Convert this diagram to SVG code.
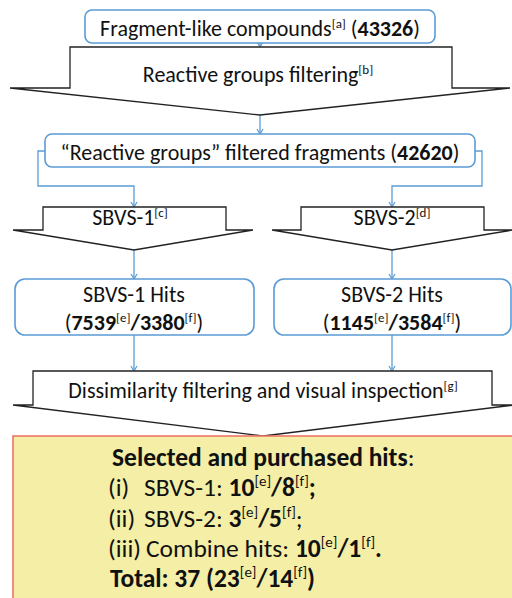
<svg xmlns="http://www.w3.org/2000/svg" width="512" height="598" viewBox="0 0 512 598">
<defs>
<marker id="ah" markerWidth="8" markerHeight="8" refX="6" refY="4" orient="auto" markerUnits="userSpaceOnUse">
<path d="M1,1 L6,4 L1,7" fill="none" stroke="#5B9BD5" stroke-width="1.2"/>
</marker>
<style>
.box{fill:#fff;stroke:#5B9BD5;stroke-width:1.6}
.arr{fill:#fff;stroke:#222;stroke-width:1.3;stroke-linejoin:miter}
.con{fill:none;stroke:#5B9BD5;stroke-width:1.3}
text{font-family:Carlito,Lato,"Open Sans",sans-serif;fill:#111;font-size:22px}
.b{font-weight:bold}
.big{font-size:25.5px}
.s{font-size:13px}
.bs{font-size:15px}
</style>
</defs>
<rect x="0" y="0" width="512" height="598" fill="#fff"/>
<g id="connectors">
<path class="con" d="M260,43 V47" marker-end="url(#ah)"/>
<path class="con" d="M260,115 V134" marker-end="url(#ah)"/>
<path class="con" d="M45,151 H38 V186 H134 V207" marker-end="url(#ah)"/>
<path class="con" d="M475,151 H482 V186 H392 V207" marker-end="url(#ah)"/>
<path class="con" d="M134,250 V279" marker-end="url(#ah)"/>
<path class="con" d="M392,250 V279" marker-end="url(#ah)"/>
<path class="con" d="M134,335 V371" marker-end="url(#ah)"/>
<path class="con" d="M392,335 V371" marker-end="url(#ah)"/>
</g>
<g id="fragments">
<rect class="box" x="85" y="10" width="350" height="33" rx="7"/>
<text x="260" y="36" text-anchor="middle" font-size="21.5">Fragment-like compounds<tspan class="s" dy="-8">[a]</tspan><tspan dy="8">  (</tspan><tspan class="b">43326</tspan>)</text>
</g>
<g id="reactive-filter">
<path class="arr" d="M70,47 H452 V88 H510 L260,115 L10,88 H70 Z"/>
<text x="258" y="82" text-anchor="middle">Reactive groups filtering<tspan class="s" dy="-8">[b]</tspan></text>
</g>
<g id="filtered">
<rect class="box" x="45" y="134" width="430" height="33" rx="7"/>
<text x="260" y="160" text-anchor="middle">“Reactive groups” filtered fragments (<tspan class="b">42620</tspan>)</text>
</g>
<g id="sbvs1">
<path class="arr" d="M43,207 H226 V230 H253 L134,250 L13,230 H43 Z"/>
<text x="130" y="225" text-anchor="middle">SBVS-1<tspan class="s" dy="-8">[c]</tspan></text>
</g>
<g id="sbvs2">
<path class="arr" d="M301,207 H484 V230 H513 L392,250 L272,230 H301 Z"/>
<text x="392" y="225" text-anchor="middle">SBVS-2<tspan class="s" dy="-8">[d]</tspan></text>
</g>
<g id="sbvs1-hits">
<rect class="box" x="15" y="279" width="239" height="56" rx="10"/>
<text x="134" y="302" text-anchor="middle">SBVS-1 Hits</text>
<text x="134" y="330" text-anchor="middle">(<tspan class="b">7539</tspan><tspan class="s" dy="-8">[e]</tspan><tspan class="b" dy="8">/3380</tspan><tspan class="s" dy="-8">[f]</tspan><tspan dy="8">)</tspan></text>
</g>
<g id="sbvs2-hits">
<rect class="box" x="274" y="279" width="237" height="56" rx="10"/>
<text x="392" y="302" text-anchor="middle">SBVS-2 Hits</text>
<text x="392" y="330" text-anchor="middle">(<tspan class="b">1145</tspan><tspan class="s" dy="-8">[e]</tspan><tspan class="b" dy="8">/3584</tspan><tspan class="s" dy="-8">[f]</tspan><tspan dy="8">)</tspan></text>
</g>
<g id="dissimilarity">
<path class="arr" d="M33,371 H492 V405 H514 L263,436 L13,405 H33 Z"/>
<text x="263" y="398" text-anchor="middle">Dissimilarity filtering and visual inspection<tspan class="s" dy="-8">[g]</tspan></text>
</g>
<g id="selected">
<rect x="13" y="436" width="510" height="180" fill="#F4EEA6" stroke="#F07468" stroke-width="1.6"/>
<text class="big" x="112" y="466"><tspan class="b">Selected and purchased hits</tspan>:</text>
<text class="big" x="108" y="496">(i)<tspan x="144">SBVS-1: </tspan><tspan class="b">10</tspan><tspan class="bs" dy="-10">[e]</tspan><tspan class="b" dy="10">/8</tspan><tspan class="bs" dy="-10">[f]</tspan><tspan class="b" dy="10">;</tspan></text>
<text class="big" x="108" y="527">(ii)<tspan x="144">SBVS-2: </tspan><tspan class="b">3</tspan><tspan class="bs" dy="-10">[e]</tspan><tspan class="b" dy="10">/5</tspan><tspan class="bs" dy="-10">[f]</tspan><tspan dy="10">;</tspan></text>
<text class="big" x="108" y="557">(iii)<tspan x="146">Combine hits: </tspan><tspan class="b">10</tspan><tspan class="bs" dy="-10">[e]</tspan><tspan class="b" dy="10">/1</tspan><tspan class="bs" dy="-10">[f]</tspan><tspan class="b" dy="10">.</tspan></text>
<text class="big b" x="110" y="587" font-size="24.5">Total: 37 (23<tspan class="bs" font-weight="normal" dy="-10">[e]</tspan><tspan dy="10">/14</tspan><tspan class="bs" font-weight="normal" dy="-10">[f]</tspan><tspan dy="10">)</tspan></text>
</g>
</svg>
